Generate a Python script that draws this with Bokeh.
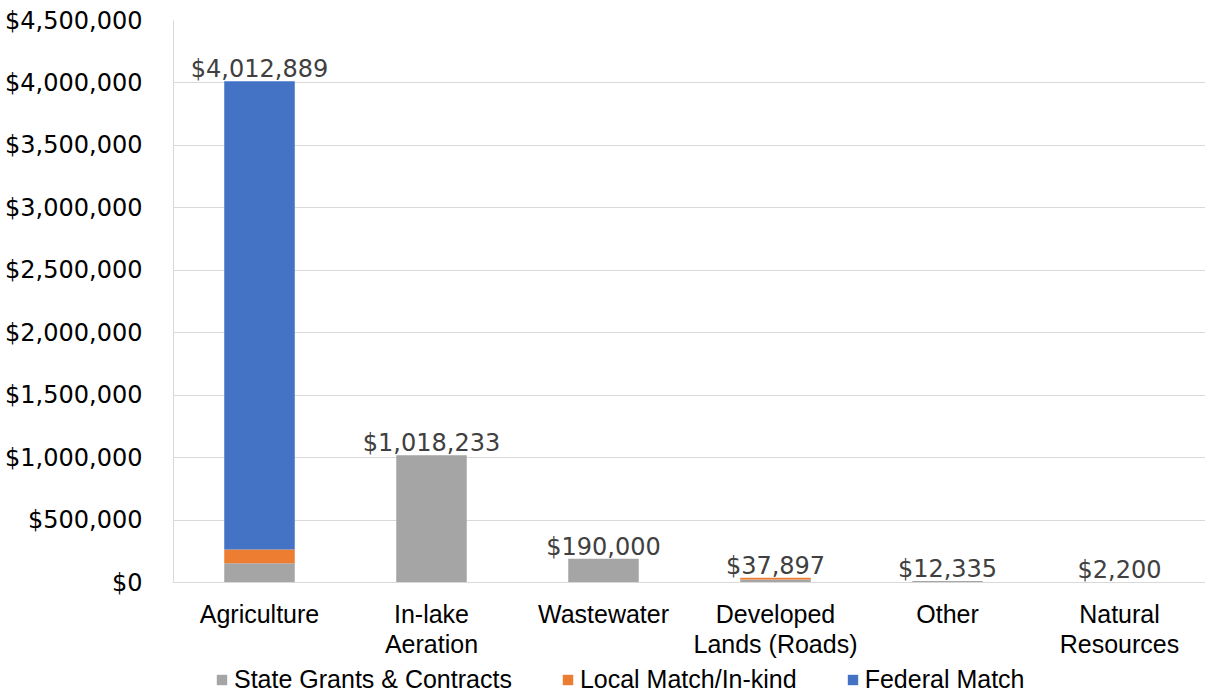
from bokeh.plotting import figure
from bokeh.models import ColumnDataSource, NumeralTickFormatter, Legend, LegendItem, FixedTicker
from bokeh.core.properties import value
from bokeh.embed import file_html
from bokeh.resources import INLINE

categories = ["Agriculture", "In-lake\nAeration", "Wastewater", "Developed\nLands (Roads)", "Other", "Natural\nResources"]
state_grants = [155000, 1018233, 190000, 25000, 12335, 2200]
local_match = [110000, 0, 0, 12897, 0, 0]
federal_match = [3747889, 0, 0, 0, 0, 0]
series_names = ["State Grants & Contracts", "Local Match/In-kind", "Federal Match"]
series_keys = ["state", "local", "federal"]
colors = ["#A5A5A5", "#ED7D31", "#4472C4"]
y_ticks = [0, 500000, 1000000, 1500000, 2000000, 2500000, 3000000, 3500000, 4000000, 4500000]

totals = [a + b + c for a, b, c in zip(state_grants, local_match, federal_match)]
labels = ["${:,}".format(t) for t in totals]

source = ColumnDataSource(dict(cat=categories, state=state_grants, local=local_match,
                               federal=federal_match, total=totals, label=labels))

# layout: value axis 562 px for 4.5M, extra 112 px below zero for category labels + legend
Y_MAX = 4500000
px_per_unit = 562 / Y_MAX
y_start = -112 / px_per_unit

p = figure(x_range=categories, y_range=(y_start, Y_MAX), width=1205, height=694,
           output_backend="svg", toolbar_location=None,
           min_border_left=173, min_border_right=0, min_border_top=20, min_border_bottom=0)

renderers = p.vbar_stack(series_keys, x="cat", width=0.41, color=colors, source=source, line_width=0)

p.text(x="cat", y="total", text="label", source=source, text_align="center",
       text_baseline="alphabetic", y_offset=-12, text_color="#404040",
       text_font=value("DejaVu Sans"), text_font_size="24px")

p.outline_line_color = None
p.xgrid.grid_line_color = None
p.ygrid.grid_line_color = "#D9D9D9"
p.ygrid.grid_line_width = 1

p.yaxis.ticker = FixedTicker(ticks=y_ticks)
p.yaxis.bounds = (0, Y_MAX)
p.yaxis.formatter = NumeralTickFormatter(format="$0,0")
p.yaxis.axis_line_color = "#D9D9D9"
p.yaxis.major_tick_line_color = None
p.yaxis.minor_tick_line_color = None
p.yaxis.major_label_standoff = 25
p.yaxis.major_label_text_font = "DejaVu Sans"
p.yaxis.major_label_text_font_size = "24px"
p.yaxis.major_label_text_color = "#000000"

p.xaxis.fixed_location = 0
p.xaxis.axis_line_color = "#D9D9D9"
p.xaxis.major_tick_line_color = None
p.xaxis.minor_tick_line_color = None
p.xaxis.major_label_standoff = 11
p.xaxis.major_label_text_line_height = 1.1
p.xaxis.major_label_text_font = "Liberation Sans"
p.xaxis.major_label_text_font_size = "25px"
p.xaxis.major_label_text_color = "#000000"

legend = Legend(items=[LegendItem(label=n, renderers=[r]) for n, r in zip(series_names, renderers)],
                orientation="horizontal", location=(42, 0), border_line_color=None,
                background_fill_alpha=0, padding=0, margin=0, spacing=49,
                glyph_width=13, glyph_height=13, label_standoff=6, label_height=20,
                label_text_font="Liberation Sans", label_text_font_size="25px",
                label_text_color="#000000")
p.add_layout(legend, "center")

open("out.html", "w").write(file_html(p, INLINE))
